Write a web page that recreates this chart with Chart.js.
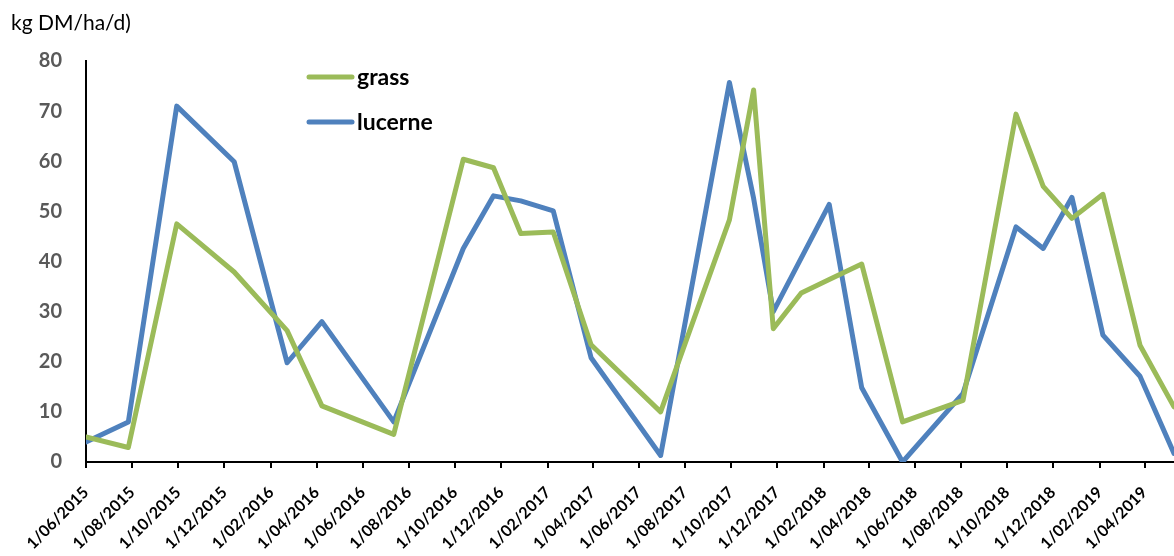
<!DOCTYPE html>
<html>
<head>
<meta charset="utf-8">
<script src="https://cdn.jsdelivr.net/npm/chart.js@4.4.1/dist/chart.umd.min.js"></script>
<style>
  html, body { margin: 0; padding: 0; background: #fff; }
  canvas { display: block; }
</style>
</head>
<body>
<canvas id="growth-chart" width="1174" height="556"></canvas>
<script>
// sample dates and growth rates, kg DM/ha/d
const sampleDates = [
  '2015-06-01', '2015-07-27', '2015-09-29', '2015-12-14', '2016-02-22', '2016-04-08',
  '2016-07-12', '2016-10-12', '2016-11-21', '2016-12-27', '2017-02-08', '2017-03-30',
  '2017-06-30', '2017-09-29', '2017-10-31', '2017-11-26', '2018-01-02', '2018-02-08',
  '2018-03-23', '2018-05-16', '2018-08-04', '2018-10-13', '2018-11-18', '2018-12-26',
  '2019-02-05', '2019-03-26', '2019-05-10'
];
const grass = [
  5.0, 2.9, 47.5, 37.9, 26.2, 11.2,
  5.5, 60.4, 58.7, 45.6, 45.9, 23.4,
  10.0, 48.3, 74.2, 26.6, 33.7, 36.4,
  39.5, 8.0, 12.3, 69.4, 55.0, 48.6,
  53.4, 23.3, 11.0
];
const lucerne = [
  4.0, 8.0, 71.0, 59.9, 19.8, 28.0,
  8.0, 42.6, 53.1, 52.1, 50.1, 20.8,
  1.3, 75.7, 52.6, 30.0, null, 51.4,
  14.8, 0.0, 13.7, 46.9, 42.6, 52.8,
  25.3, 17.1, 1.7
];
const tickLabels = [
  '1/06/2015', '1/08/2015', '1/10/2015', '1/12/2015', '1/02/2016', '1/04/2016',
  '1/06/2016', '1/08/2016', '1/10/2016', '1/12/2016', '1/02/2017', '1/04/2017',
  '1/06/2017', '1/08/2017', '1/10/2017', '1/12/2017', '1/02/2018', '1/04/2018',
  '1/06/2018', '1/08/2018', '1/10/2018', '1/12/2018', '1/02/2019', '1/04/2019'
];
const axisTitle = 'kg DM/ha/d)';

const START = Date.UTC(2015, 5, 1);
const DAY = 86400000;
function dayOfIso(s) {
  const [y, m, d] = s.split('-').map(Number);
  return (Date.UTC(y, m - 1, d) - START) / DAY;
}
function dayOfLabel(s) {
  const [d, m, y] = s.split('/').map(Number);
  return (Date.UTC(y, m - 1, d) - START) / DAY;
}
const xDays = sampleDates.map(dayOfIso);
const tickDays = tickLabels.map(dayOfLabel);

const toPoints = vals => vals.map((v, i) => ({ x: xDays[i], y: v }));

// legend sits inside the plot, plus the cut-off axis title top left
const insideLegend = {
  id: 'insideLegend',
  afterDraw(chart) {
    const ctx = chart.ctx;
    ctx.save();
    chart.data.datasets.forEach((ds, i) => {
      const y = 77 + i * 45;
      ctx.strokeStyle = ds.borderColor;
      ctx.lineWidth = 5;
      ctx.lineCap = 'round';
      ctx.beginPath();
      ctx.moveTo(309, y);
      ctx.lineTo(352, y);
      ctx.stroke();
      ctx.fillStyle = '#000';
      ctx.font = 'bold 23px Lato';
      ctx.textBaseline = 'middle';
      ctx.fillText(ds.label, 357, y + 1);
    });
    ctx.fillStyle = '#000';
    ctx.font = '21px Lato';
    ctx.textBaseline = 'middle';
    ctx.fillText(axisTitle, 11, 23);
    ctx.restore();
  }
};

new Chart(document.getElementById('growth-chart').getContext('2d'), {
  type: 'line',
  data: {
    datasets: [
      { label: 'grass', data: toPoints(grass), borderColor: '#9BBB59', backgroundColor: '#9BBB59' },
      { label: 'lucerne', data: toPoints(lucerne), borderColor: '#4F81BD', backgroundColor: '#4F81BD', spanGaps: true }
    ]
  },
  options: {
    responsive: false,
    animation: false,
    layout: { padding: { top: 61, right: 0, bottom: 0, left: 0 } },
    plugins: { legend: { display: false }, tooltip: { enabled: false } },
    elements: {
      point: { radius: 0 },
      line: { borderWidth: 5, tension: 0, borderJoinStyle: 'round', borderCapStyle: 'round' }
    },
    scales: {
      x: {
        type: 'linear',
        min: 0,
        max: xDays[xDays.length - 1],
        afterBuildTicks: s => { s.ticks = tickDays.map(v => ({ value: v })); },
        afterFit: s => { s.height = 94; s.paddingLeft = 0; s.paddingRight = 0; },
        ticks: {
          autoSkip: false,
          maxRotation: 45,
          minRotation: 45,
          padding: 15,
          color: '#000',
          font: { family: 'Lato', size: 16, weight: 'bold' },
          callback: (v, i) => tickLabels[i]
        },
        grid: { drawOnChartArea: false, drawTicks: true, tickLength: 6, color: '#000', lineWidth: 2 },
        border: { display: true, color: '#000', width: 2 }
      },
      y: {
        min: 0,
        max: 80,
        afterFit: s => { s.width = 86; },
        ticks: {
          stepSize: 10,
          padding: 24,
          color: '#595959',
          font: { family: 'Lato', size: 20, weight: 'bold' }
        },
        grid: { drawOnChartArea: false, drawTicks: false },
        border: { display: true, color: '#000', width: 2 }
      }
    }
  },
  plugins: [insideLegend]
});
</script>
</body>
</html>
